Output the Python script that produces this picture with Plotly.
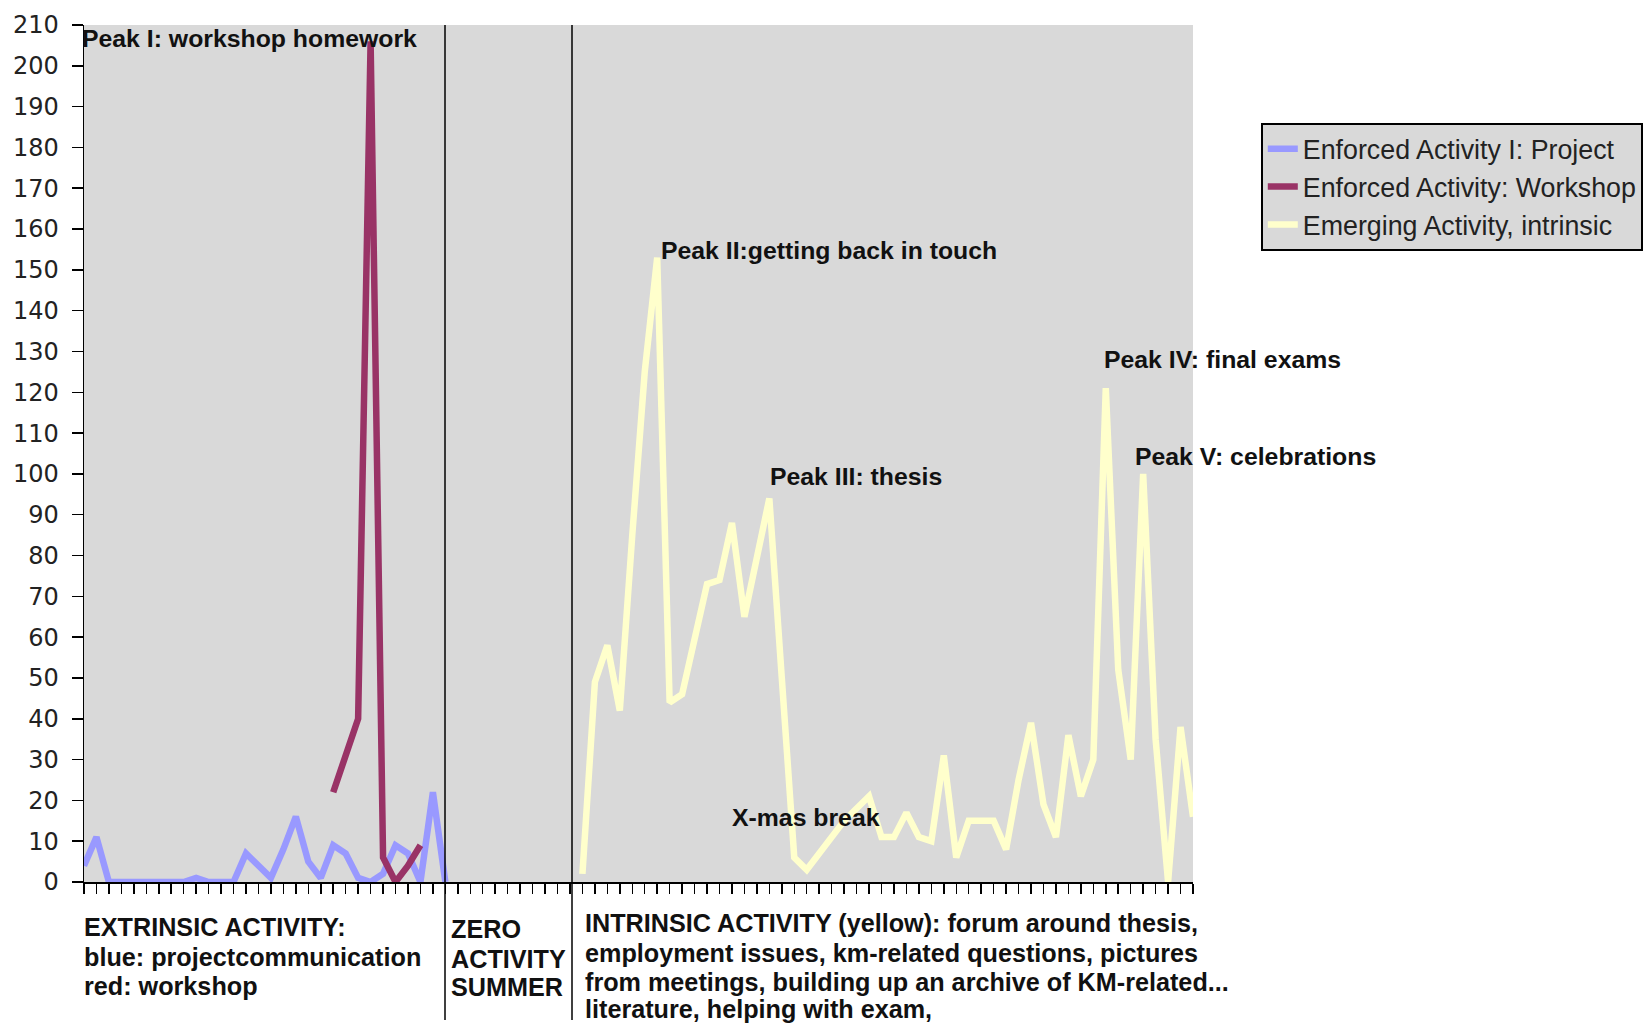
import plotly.graph_objects as go

# ---------------- data ----------------
weeks = list(range(90))

project = [4, 11, 0, 0, 0, 0, 0, 0, 0, 1,
           0, 0, 0, 7, 4, 1, 8, 16, 5, 1,
           9, 7, 1, 0, 2, 9, 7, 0, 22, 0] + [None] * 60

workshop = [None] * 20 + [22, 31, 40, 206, 6, 0, 4, 9] + [None] * 62

intrinsic = [None] * 40 + [2, 49, 58, 42, 85, 125, 153, 44, 46, 59,
                           73, 74, 88, 65, 80, 94, 50, 6, 3, 7,
                           11, 15, 18, 21, 11, 11, 17, 11, 10, 31,
                           6, 15, 15, 15, 8, 25, 39, 19, 11, 36,
                           21, 30, 121, 52, 30, 100, 35, 0, 38, 16]

series_names = ["Enforced Activity I: Project",
                "Enforced Activity: Workshop",
                "Emerging Activity, intrinsic"]

y_ticks = list(range(0, 211, 10))

peak_labels = ["Peak I: workshop homework",
               "Peak II:getting back in touch",
               "Peak III: thesis",
               "X-mas break",
               "Peak IV: final exams",
               "Peak V: celebrations"]

extrinsic_lines = ["EXTRINSIC ACTIVITY:",
                   "blue: projectcommunication",
                   "red: workshop"]
zero_lines = ["ZERO", "ACTIVITY", "SUMMER"]
intrinsic_lines = ["INTRINSIC ACTIVITY (yellow): forum around thesis,",
                   "employment issues, km-related questions, pictures",
                   "from meetings, building up an archive of KM-related...",
                   "literature, helping with exam,"]

# ---------------- layout geometry (pixels) ----------------
W, H = 1652, 1023
PL, PR, PT, PB = 84, 1193, 25, 882


def xp(px):
    return (px - PL) / (PR - PL)


def yp(py):
    return (PB - py) / (PB - PT)


fig = go.Figure()
colors = ["#9999FF", "#993366", "#FFFFCC"]
for name, vals, col in zip(series_names, [project, workshop, intrinsic], colors):
    fig.add_trace(go.Scatter(x=weeks, y=vals, mode="lines", name=name,
                             line=dict(color=col, width=6.5),
                             connectgaps=False, hoverinfo="skip"))

peak_font = dict(family="Liberation Sans", size=24.8, color="#111111", weight="bold")
note_font = dict(family="Liberation Sans", size=25.2, color="#111111", weight="bold")

annotations = []
label_pos = [(80, 39), (659, 250), (768, 476), (730, 817), (1102, 359), (1133, 456)]
for text, (px, py) in zip(peak_labels, label_pos):
    annotations.append(dict(text=text, x=xp(px), y=yp(py), xref="paper", yref="paper",
                            xanchor="left", yanchor="middle", showarrow=False, font=peak_font))

blocks = [(extrinsic_lines, 82, [927, 957, 986]),
          (zero_lines, 449, [929, 959, 987]),
          (intrinsic_lines, 583, [923, 953, 982, 1009])]
for lines, px, ys in blocks:
    for text, py in zip(lines, ys):
        annotations.append(dict(text=text, x=xp(px), y=yp(py), xref="paper", yref="paper",
                                xanchor="left", yanchor="middle", showarrow=False, font=note_font))

shapes = []
for px in (445, 572):
    shapes.append(dict(type="line", xref="paper", yref="paper",
                       x0=xp(px), x1=xp(px), y0=1, y1=yp(1020),
                       line=dict(color="black", width=1.5)))

fig.update_layout(
    width=W, height=H,
    margin=dict(l=PL, r=W - PR, t=PT, b=H - PB, autoexpand=False),
    paper_bgcolor="white",
    plot_bgcolor="#D9D9D9",
    showlegend=True,
    legend=dict(x=xp(1261), y=yp(123), xanchor="left", yanchor="top",
                bgcolor="#D9D9D9", bordercolor="black", borderwidth=1.8,
                font=dict(family="Liberation Sans", size=26.8, color="#222222"),
                itemwidth=30, tracegroupgap=0),
    annotations=annotations,
    shapes=shapes,
    xaxis=dict(range=[0, 89], tickmode="linear", tick0=0, dtick=1,
               ticks="outside", ticklen=10, tickwidth=1.5, tickcolor="black",
               showticklabels=False, showgrid=False, zeroline=False,
               showline=True, linecolor="black", linewidth=1.5, fixedrange=True),
    yaxis=dict(range=[0, 210], tickmode="array", tickvals=y_ticks,
               ticktext=[str(v) for v in y_ticks],
               ticks="outside", ticklen=11, tickwidth=1.5, tickcolor="black",
               tickfont=dict(family="DejaVu Sans", size=24, color="#222222"),
               ticklabelstandoff=8,
               showgrid=False, zeroline=False,
               showline=True, linecolor="black", linewidth=1.5, fixedrange=True),
)

fig.write_html("out.html", config={"displayModeBar": False, "staticPlot": True},
               post_script="document.body.style.margin='0px';")
